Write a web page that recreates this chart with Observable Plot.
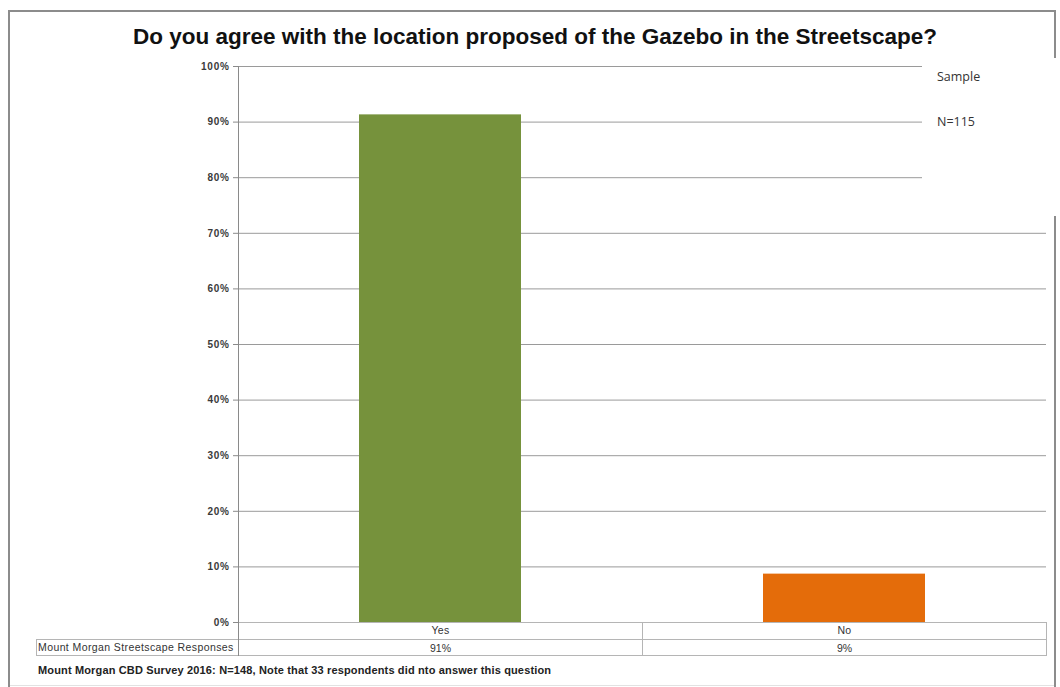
<!DOCTYPE html>
<html>
<head>
<meta charset="utf-8">
<script src="https://cdn.jsdelivr.net/npm/d3@7"></script>
<script src="https://cdn.jsdelivr.net/npm/@observablehq/plot@0.6"></script>
<style>
  html, body { margin: 0; padding: 0; background: #fff; }
  #wrap { position: relative; width: 1060px; height: 687px; overflow: hidden; font-family: "Liberation Sans", Arial, sans-serif; }
  #wrap svg { position: absolute; left: 0; top: 0; }
  #wrap svg g[aria-label="y-axis tick label"] text { letter-spacing: 0.7px; }
  #wrap svg g[aria-label="x-axis tick label"] text { letter-spacing: 0.3px; }
  .abs { position: absolute; }
  .title { left: 0; width: 1070px; top: 24px; text-align: center; font-weight: bold; font-size: 22.5px; color: #111; white-space: nowrap; }
  .legend { left: 922px; top: 58px; width: 138px; height: 158px; background: #fff; }
  .legend div { position: absolute; left: 15px; font-family: "Open Sans", "Noto Sans", sans-serif; font-size: 12.5px; color: #333; }
  .cell { box-sizing: border-box; border: 1px solid #b5b5b5; }
  .footer { left: 38px; top: 664px; font-weight: bold; font-size: 11px; letter-spacing: 0.15px; color: #222; white-space: nowrap; }
  .rowlabel { left: 38px; top: 641px; font-size: 10.5px; letter-spacing: 0.4px; color: #333; white-space: nowrap; }
</style>
</head>
<body>
<div id="wrap"></div>
<script>
const categories = ["Yes", "No"];
const values = [0.913, 0.087];
const yTicks = [0, 0.1, 0.2, 0.3, 0.4, 0.5, 0.6, 0.7, 0.8, 0.9, 1.0];
const barColors = ["#76923C", "#E46C0A"];
const titleText = "Do you agree with the location proposed of the Gazebo in the Streetscape?";
const legendLines = ["Sample", "N=115"];
const seriesName = "Mount Morgan Streetscape Responses";
const footerText = "Mount Morgan CBD Survey 2016: N=148, Note that 33 respondents  did nto answer this question";

const data = categories.map((c, i) => ({answer: c, value: values[i]}));

const chart = Plot.plot({
  width: 1060,
  height: 687,
  marginLeft: 238,
  marginRight: 14,
  marginTop: 66,
  marginBottom: 65,
  style: {fontFamily: "Liberation Sans, Arial, sans-serif", background: "transparent"},
  x: {domain: categories, paddingInner: 0.6, paddingOuter: 0.3, label: null},
  y: {domain: [0, 1], label: null},
  color: {domain: categories, range: barColors},
  marks: [
    Plot.gridY(yTicks, {stroke: "#9a9a9a", strokeOpacity: 1, strokeWidth: 1}),
    Plot.axisY(yTicks, {tickFormat: d3.format(".0%"), tickSize: 5, tickPadding: 4, fontSize: 10, fill: "#3a3a3a", stroke: "#8a8a8a", fontWeight: "bold", label: null}),
    Plot.barY(data, {x: "answer", y: "value", fill: "answer"}),
    Plot.axisX({tickSize: 0, tickPadding: 4, fontSize: 10.5, fill: "#333", label: null}),
    Plot.text(data, {x: "answer", y: 0, text: d => d3.format(".0%")(d.value), dy: 26, fontSize: 10.5, fill: "#333"})
  ]
});

const wrap = document.getElementById("wrap");
wrap.appendChild(chart);

function addDiv(cls, style, text) {
  const d = document.createElement("div");
  d.className = "abs " + (cls || "");
  Object.assign(d.style, style || {});
  if (text) d.textContent = text;
  wrap.appendChild(d);
  return d;
}

// outer frame
addDiv("", {left: "8px", top: "10px", width: "2px", height: "677px", background: "#8c8c8c"});
addDiv("", {left: "8px", top: "10px", width: "1048px", height: "2px", background: "#8c8c8c"});
addDiv("", {left: "1054px", top: "10px", width: "2px", height: "677px", background: "#8c8c8c"});
addDiv("", {left: "10px", top: "685px", width: "1044px", height: "1px", background: "#e2e2e2"});

// title
addDiv("title", {}, titleText);

// legend box
const lg = addDiv("legend", {});
legendLines.forEach((t, i) => {
  const d = document.createElement("div");
  d.style.top = (i === 0 ? 10 : 55) + "px";
  d.textContent = t;
  lg.appendChild(d);
});

// data table
addDiv("cell", {left: "238px", top: "622px", width: "405px", height: "18px"});
addDiv("cell", {left: "642px", top: "622px", width: "405px", height: "18px"});
addDiv("cell", {left: "36px", top: "639px", width: "203px", height: "17px"});
addDiv("cell", {left: "238px", top: "639px", width: "405px", height: "17px"});
addDiv("cell", {left: "642px", top: "639px", width: "405px", height: "17px"});
// y axis line
addDiv("", {left: "238px", top: "66px", width: "1px", height: "590px", background: "#8a8a8a"});
addDiv("rowlabel", {}, seriesName);

// footer
addDiv("footer", {}, footerText);
</script>
</body>
</html>
